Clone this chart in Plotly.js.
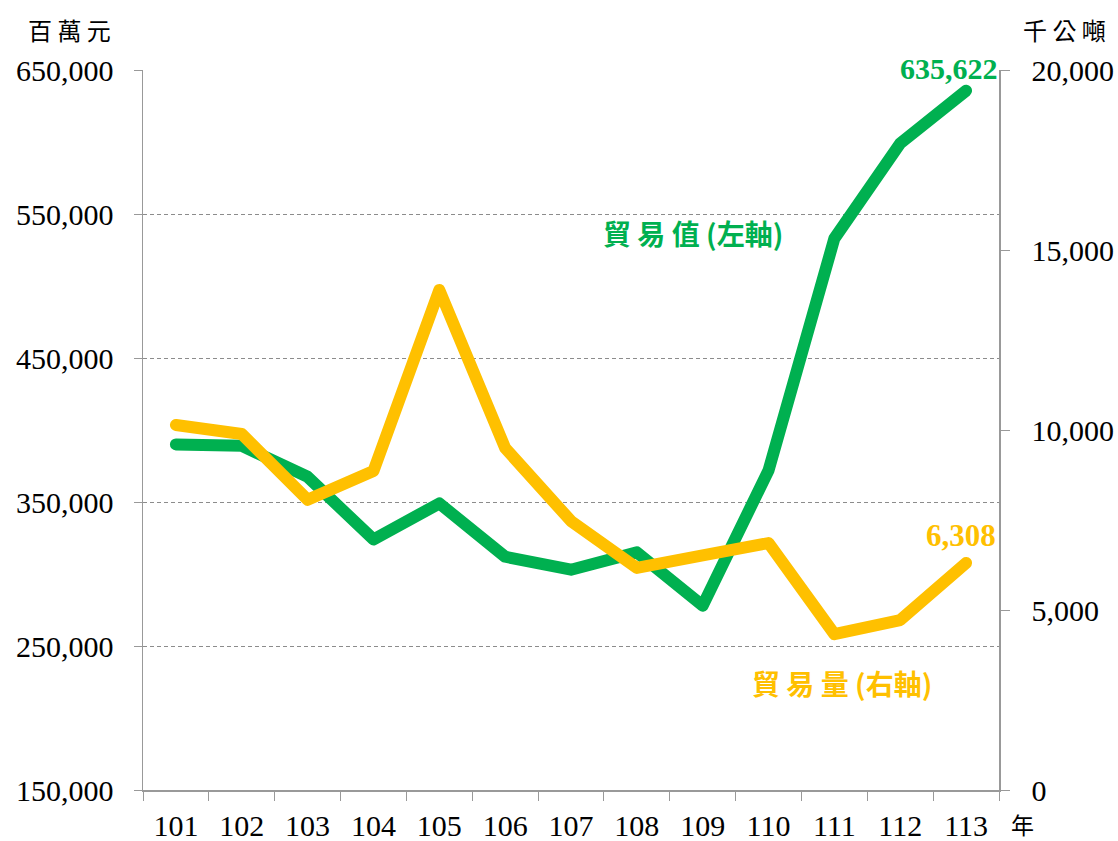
<!DOCTYPE html>
<html><head><meta charset="utf-8">
<script src="https://cdn.plot.ly/plotly-3.0.1.min.js"></script>
<style>body{margin:0;background:#fff}#c{width:1118px;height:841px}
.js-line{stroke-linecap:round;stroke-linejoin:round}</style>
</head><body><div id="c"></div>
<script>
const years = ['101','102','103','104','105','106','107','108','109','110','111','112','113'];
const tradeValue = [390000, 389000, 367500, 324000, 349000, 312000, 303000, 315000, 278000, 372000, 533000, 599000, 635622];
const tradeVolume = [10140, 9890, 8060, 8860, 13890, 9500, 7470, 6170, 6520, 6860, 4330, 4720, 6308];
const leftTicks = [150000, 250000, 350000, 450000, 550000, 650000];
const rightTicks = [0, 5000, 10000, 15000, 20000];
const fmt = v => v.toLocaleString('en-US');
const last = years.length - 1;

const serif = '"Liberation Serif", "Times New Roman", serif';
const cjk = '"Noto Sans CJK TC", sans-serif';
const green = '#00B050', yellow = '#FFC000';
const axisGray = '#999';

const traces = [
  {x: years, y: tradeValue, type: 'scatter', mode: 'lines', line: {color: green, width: 12}, yaxis: 'y', hoverinfo: 'skip'},
  {x: years, y: tradeVolume, type: 'scatter', mode: 'lines', line: {color: yellow, width: 12}, yaxis: 'y2', hoverinfo: 'skip'}
];

const layout = {
  width: 1118, height: 841,
  margin: {l: 143, r: 119, t: 70, b: 51},
  paper_bgcolor: '#fff', plot_bgcolor: '#fff',
  showlegend: false,
  xaxis: {
    type: 'category', range: [-0.5, 12.5],
    tickson: 'boundaries', ticks: 'outside', ticklen: 9, tickcolor: axisGray,
    showline: true, linecolor: axisGray, linewidth: 1.5, showgrid: false,
    tickfont: {family: serif, size: 30, color: '#000'}, ticklabelstandoff: 8
  },
  yaxis: {
    range: [150000, 650000], tickvals: leftTicks, ticktext: leftTicks.map(fmt),
    showline: true, linecolor: axisGray, linewidth: 1.5,
    ticks: 'outside', ticklen: 8, tickcolor: axisGray,
    showgrid: true, gridcolor: '#8c8c8c', griddash: '4px,3px', gridwidth: 1,
    zeroline: false,
    tickfont: {family: serif, size: 30, color: '#000'}, ticklabelstandoff: 14
  },
  yaxis2: {
    overlaying: 'y', side: 'right',
    range: [0, 20000], tickvals: rightTicks, ticktext: rightTicks.map(fmt),
    showline: true, linecolor: axisGray, linewidth: 1.5,
    ticks: 'outside', ticklen: 9, tickcolor: axisGray,
    showgrid: false, zeroline: false,
    tickfont: {family: serif, size: 30, color: '#000'}, ticklabelstandoff: 16
  },
  annotations: [
    {xref: 'paper', yref: 'paper', x: -0.0853, y: 1.0556, xanchor: 'center', yanchor: 'middle', text: '百 萬 元', showarrow: false, font: {family: cjk, size: 24, color: '#000'}},
    {xref: 'paper', yref: 'paper', x: 1.077, y: 1.0556, xanchor: 'center', yanchor: 'middle', text: '千 公 噸', showarrow: false, font: {family: cjk, size: 24, color: '#000'}},
    {xref: 'paper', yref: 'paper', x: 1.013, y: -0.0472, xanchor: 'left', yanchor: 'middle', borderpad: 0, text: '年', showarrow: false, font: {family: cjk, size: 23, color: '#000'}},
    {xref: 'x', yref: 'y', x: last, y: tradeValue[last], xanchor: 'center', yanchor: 'bottom', xshift: -17, yshift: 4, text: '<b>' + fmt(tradeValue[last]) + '</b>', showarrow: false, font: {family: serif, size: 30, color: green}},
    {xref: 'x', yref: 'y2', x: last, y: tradeVolume[last], xanchor: 'center', yanchor: 'bottom', xshift: -5, yshift: 8, text: '<b>' + fmt(tradeVolume[last]) + '</b>', showarrow: false, font: {family: serif, size: 31, color: yellow}},
    {xref: 'paper', yref: 'paper', x: 0.6425, y: 0.7736, xanchor: 'center', yanchor: 'middle', text: '<b>貿 易 值 (左軸)</b>', showarrow: false, font: {family: cjk, size: 28, color: green}},
    {xref: 'paper', yref: 'paper', x: 0.8166, y: 0.1486, xanchor: 'center', yanchor: 'middle', text: '<b>貿 易 量 (右軸)</b>', showarrow: false, font: {family: cjk, size: 28, color: yellow}}
  ]
};

Plotly.newPlot('c', traces, layout, {displayModeBar: false, staticPlot: true});
</script></body></html>
